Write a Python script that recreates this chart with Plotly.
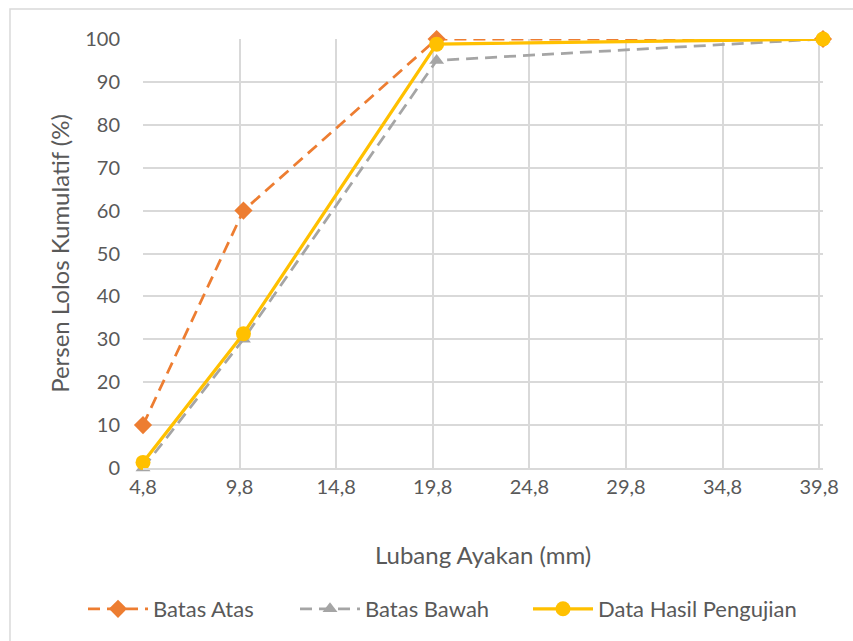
import plotly.graph_objects as go

# Sieve openings (mm) and cumulative percent passing
sieve_mm = [4.8, 10, 20, 40]
batas_atas = [10, 60, 100, 100]
batas_bawah = [0, 30, 95, 100]
hasil_uji = [1.3, 31.3, 98.8, 100]

x_tickvals = [4.8, 9.8, 14.8, 19.8, 24.8, 29.8, 34.8, 39.8]
x_ticktext = ["4,8", "9,8", "14,8", "19,8", "24,8", "29,8", "34,8", "39,8"]
y_tickvals = [0, 10, 20, 30, 40, 50, 60, 70, 80, 90, 100]

FONT = "Lato"
TEXT = "#595959"
GRID = "#D9D9D9"
W, H = 853, 641

fig = go.Figure()
fig.add_trace(go.Scatter(
    x=sieve_mm, y=batas_atas, name="Batas Atas", mode="lines+markers",
    line=dict(color="#ED7D31", width=2.75, dash="12px,7px"),
    marker=dict(symbol="diamond", size=14, color="#ED7D31"),
    cliponaxis=False, legend="legend",
))
fig.add_trace(go.Scatter(
    x=sieve_mm, y=batas_bawah, name="Batas Bawah", mode="lines+markers",
    line=dict(color="#A5A5A5", width=2.75, dash="12px,7px"),
    marker=dict(symbol="triangle-up", size=13, color="#A5A5A5"),
    cliponaxis=False, legend="legend2",
))
fig.add_trace(go.Scatter(
    x=sieve_mm, y=hasil_uji, name="Data Hasil Pengujian", mode="lines+markers",
    line=dict(color="#FFC000", width=3.25),
    marker=dict(symbol="circle", size=15, color="#FFC000"),
    cliponaxis=False, legend="legend3",
))


def legend_box(left_px):
    # one legend entry per box, laid out in a single row under the plot
    return dict(
        orientation="h", xref="container", yref="container",
        x=left_px / W, xanchor="left", y=(H - 609) / H, yanchor="middle",
        font=dict(family=FONT, size=22, color=TEXT),
        itemwidth=60, bgcolor="rgba(0,0,0,0)",
    )


fig.update_layout(
    width=W, height=H,
    margin=dict(l=143, r=30, t=39, b=173),
    paper_bgcolor="white", plot_bgcolor="white",
    font=dict(family=FONT, size=20, color=TEXT),
    showlegend=True,
    legend=legend_box(83),
    legend2=legend_box(295),
    legend3=legend_box(528),
    xaxis=dict(
        range=[4.8, 40], tickvals=x_tickvals, ticktext=x_ticktext,
        showgrid=True, gridcolor=GRID, gridwidth=1.5,
        zeroline=False, showline=True, linecolor=GRID, linewidth=1.5,
        ticks="", ticklabelstandoff=0,
        tickfont=dict(family=FONT, size=20, color=TEXT),
        title=dict(text="Lubang Ayakan (mm)", standoff=50,
                   font=dict(family=FONT, size=24, color=TEXT)),
    ),
    yaxis=dict(
        range=[0, 100], tickvals=y_tickvals,
        showgrid=True, gridcolor=GRID, gridwidth=1.5,
        zeroline=False, showline=False, ticks="",
        ticklabelstandoff=22,
        tickfont=dict(family=FONT, size=20, color=TEXT),
        title=dict(text="Persen Lolos Kumulatif (%)", standoff=8,
                   font=dict(family=FONT, size=24, color=TEXT)),
    ),
    shapes=[dict(
        type="rect", xref="paper", yref="paper",
        x0=-0.1956, x1=1.2, y0=-0.5, y1=(468 - 9) / 429,
        line=dict(color=GRID, width=1.5), fillcolor="rgba(0,0,0,0)",
        layer="below",
    )],
)

fig.write_html("out.html")
